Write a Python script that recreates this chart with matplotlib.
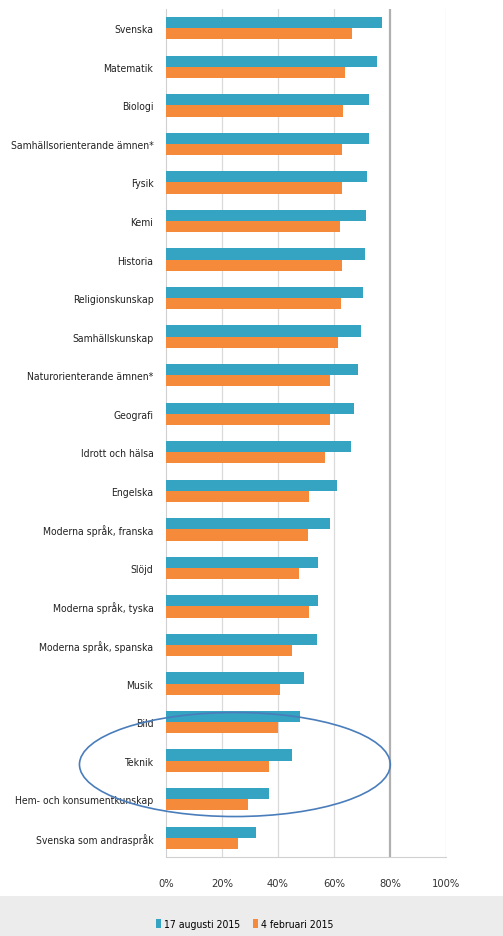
import numpy as np
import matplotlib
matplotlib.use('Agg')
import matplotlib.pyplot as plt
from matplotlib.patches import Ellipse, Rectangle

# subjects, top to bottom
subjects = ['Svenska', 'Matematik', 'Biologi', 'Samhällsorienterande ämnen*',
            'Fysik', 'Kemi', 'Historia', 'Religionskunskap', 'Samhällskunskap',
            'Naturorienterande ämnen*', 'Geografi', 'Idrott och hälsa', 'Engelska',
            'Moderna språk, franska', 'Slöjd', 'Moderna språk, tyska',
            'Moderna språk, spanska', 'Musik', 'Bild', 'Teknik',
            'Hem- och konsumentkunskap', 'Svenska som andraspråk']

# share of teachers (%)
aug_2015 = [77.1, 75.4, 72.5, 72.5, 71.8, 71.5, 70.9, 70.5, 69.5, 68.6, 67.0,
            66.2, 61.1, 58.7, 54.4, 54.3, 54.0, 49.4, 48.0, 45.0, 36.8, 32.1]
feb_2015 = [66.5, 63.9, 63.2, 62.7, 63.0, 62.0, 62.7, 62.5, 61.5, 58.5, 58.7,
            56.9, 51.1, 50.7, 47.5, 51.1, 45.1, 40.6, 39.9, 36.8, 29.4, 25.6]

series_names = ['17 augusti 2015', '4 februari 2015']
colors = ['#35a3c2', '#f68a3b']
xticks = [0, 20, 40, 60, 80, 100]

font = dict(family='DejaVu Sans', stretch='condensed')

fig = plt.figure(figsize=(5.03, 9.37), dpi=100)
# greyish band at the bottom of the photo
fig.patches.append(Rectangle((0, 0), 1, 0.043, transform=fig.transFigure,
                             facecolor='#ececec', edgecolor='none', zorder=0))

ax = fig.add_axes([0.330, 0.0843, 0.5567, 0.905])
y = np.arange(len(subjects))
h = 0.29
ax.barh(y - h / 2, aug_2015, height=h, color=colors[0], label=series_names[0], zorder=3)
ax.barh(y + h / 2, feb_2015, height=h, color=colors[1], label=series_names[1], zorder=3)

ax.set_xlim(0, 100)
ax.set_ylim(len(subjects) - 0.5, -0.5)
ax.set_yticks(y)
ax.set_yticklabels(subjects, fontsize=7.5, color='#222222', **font)
ax.set_xticks(xticks)
ax.set_xticklabels(['%d%%' % t for t in xticks], fontsize=8, color='#333333', **font)
ax.tick_params(axis='both', length=0)
ax.tick_params(axis='x', pad=15)
ax.tick_params(axis='y', pad=9)

for t in xticks[1:]:
    ax.axvline(t, color='#b0b0b0' if t == 80 else '#dadada',
               lw=1.6 if t == 80 else 0.9, zorder=1)
for side in ['top', 'right']:
    ax.spines[side].set_visible(False)
ax.spines['left'].set_color('#d0d0d0')
ax.spines['bottom'].set_color('#d0d0d0')

# hand-drawn ellipse around Teknik
ell = Ellipse((24.6, 19.1), 111, 2.7, transform=ax.transData, fill=False,
              edgecolor='#4a7dbb', lw=1.2, clip_on=False, zorder=5)
ax.add_patch(ell)

leg = fig.legend(loc='center', bbox_to_anchor=(0.487, 0.013), ncol=2, frameon=False,
                 prop={'family': 'DejaVu Sans', 'stretch': 'condensed', 'size': 7.5},
                 handlelength=0.5, handleheight=1.0,
                 handletextpad=0.3, columnspacing=1.2)

fig.savefig('out.png', dpi=100)
